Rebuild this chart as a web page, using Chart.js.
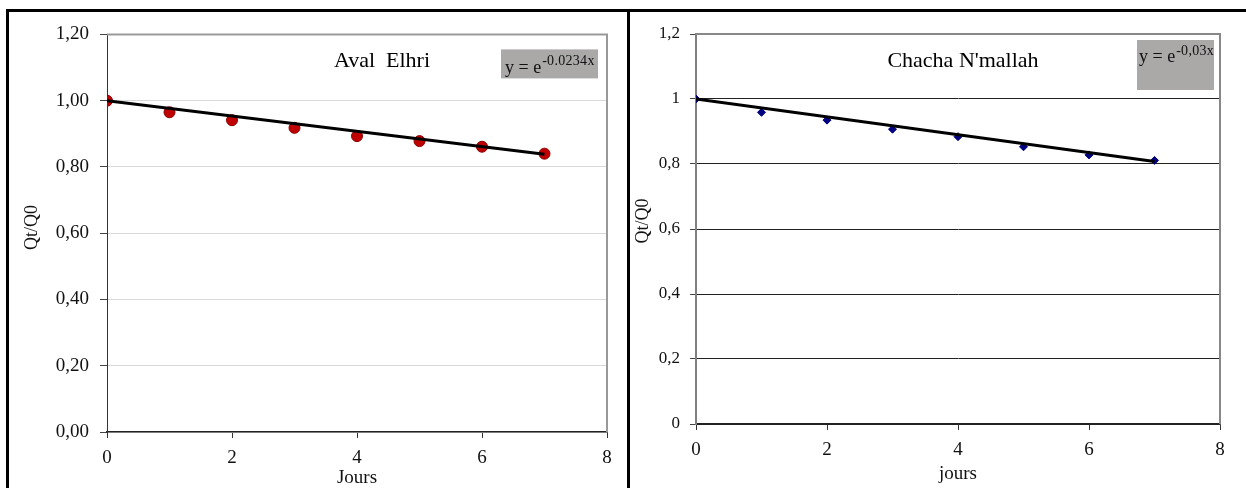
<!DOCTYPE html>
<html>
<head>
<meta charset="utf-8">
<script src="https://cdn.jsdelivr.net/npm/chart.js@4.4.1/dist/chart.umd.min.js"></script>
<style>
  html, body { margin: 0; padding: 0; background: #fff; }
  body { width: 1246px; height: 488px; overflow: hidden; position: relative; }
  .frame { position: absolute; left: 6px; top: 9px; width: 1300px; height: 600px; border: 3px solid #000; box-sizing: border-box; }
  .divider { position: absolute; left: 627px; top: 9px; width: 3px; height: 480px; background: #000; }
  .cell { position: absolute; top: 12px; width: 616px; height: 476px; }
</style>
</head>
<body>
<div class="frame"></div>
<div class="divider"></div>
<div class="cell" style="left:10px"><canvas id="left"></canvas></div>
<div class="cell" style="left:630px"><canvas id="right"></canvas></div>
<script>
// days
const days = [0, 1, 2, 3, 4, 5, 6, 7];
// Qt/Q0 measured values
const avalElhri = [1.000, 0.965, 0.941, 0.918, 0.893, 0.878, 0.861, 0.840];
const chachaNmallah = [1.000, 0.959, 0.935, 0.907, 0.884, 0.853, 0.828, 0.811];
// trend line ends
const trendDays = [0, 7];
const avalTrend = [1.000, 0.838];
const chachaTrend = [1.000, 0.808];

const xTickValues = [0, 2, 4, 6, 8];
const xTickLabels = ["0", "2", "4", "6", "8"];
const yTickValues = [0, 0.2, 0.4, 0.6, 0.8, 1.0, 1.2];
const yTickLabelsLeft = ["0,00", "0,20", "0,40", "0,60", "0,80", "1,00", "1,20"];
const yTickLabelsRight = ["0", "0,2", "0,4", "0,6", "0,8", "1", "1,2"];

const FONT = "'Liberation Serif', 'Times New Roman', serif";

function toPoints(xs, ys) {
  return xs.map((x, i) => ({ x, y: ys[i] }));
}

// titles, equation box, y title and plot frame
const annotate = {
  id: "annotate",
  afterDraw(chart, args, opts) {
    const { ctx, chartArea: a } = chart;
    ctx.save();
    // frame (top + right)
    ctx.strokeStyle = opts.frameColor;
    ctx.lineWidth = 2;
    ctx.beginPath();
    ctx.moveTo(a.left, a.top);
    ctx.lineTo(a.right, a.top);
    ctx.lineTo(a.right, a.bottom);
    ctx.stroke();
    // title
    ctx.fillStyle = "#000";
    ctx.font = "22px " + FONT;
    ctx.textAlign = "center";
    ctx.textBaseline = "alphabetic";
    ctx.fillText(opts.title, a.left + opts.titleX, a.top + opts.titleY);
    // y axis title
    ctx.save();
    ctx.translate(a.left + opts.yTitle.x, a.top + opts.yTitle.y);
    ctx.rotate(-Math.PI / 2);
    ctx.textBaseline = "middle";
    ctx.font = "18px " + FONT;
    ctx.fillStyle = "#111";
    ctx.fillText("Qt/Q0", 0, 0);
    ctx.restore();
    // equation box
    const b = opts.box;
    ctx.fillStyle = "#aba8a8";
    ctx.fillRect(a.left + b.x, a.top + b.y, b.w, b.h);
    ctx.fillStyle = "#111";
    ctx.textAlign = "left";
    ctx.font = "18px " + FONT;
    const tx = a.left + b.x + b.tx;
    ctx.fillText("y = e", tx, a.top + b.base);
    const w = ctx.measureText("y = e").width;
    ctx.font = "14px " + FONT;
    ctx.letterSpacing = "0.3px";
    ctx.fillText(opts.exponent, tx + w + 1, a.top + b.supBase);
    ctx.restore();
  },
};

function makeChart(id, cfg) {
  return new Chart(document.getElementById(id), {
    type: "scatter",
    data: {
      datasets: [
        {
          label: "trend",
          data: toPoints(trendDays, cfg.trend),
          showLine: true,
          borderColor: "#000",
          borderWidth: 3,
          pointRadius: 0,
          order: 0,
        },
        {
          label: "Qt/Q0",
          data: toPoints(days, cfg.values),
          pointStyle: cfg.pointStyle,
          pointRadius: cfg.pointRadius,
          backgroundColor: cfg.pointColor,
          borderColor: cfg.pointBorder,
          borderWidth: 1,
          showLine: false,
          order: 1,
        },
      ],
    },
    options: {
      responsive: true,
      maintainAspectRatio: false,
      animation: false,
      events: [],
      layout: { padding: { top: cfg.padTop, right: cfg.padRight, left: 0, bottom: 0 } },
      plugins: {
        legend: { display: false },
        tooltip: { enabled: false },
        annotate: cfg.annotate,
      },
      scales: {
        x: {
          type: "linear",
          min: 0,
          max: 8,
          afterBuildTicks: (s) => { s.ticks = xTickValues.map((v) => ({ value: v })); },
          afterFit: (s) => { s.height = cfg.xHeight; },
          ticks: {
            callback: (v, i) => xTickLabels[i],
            font: { family: FONT, size: 19 },
            color: "#111",
            padding: cfg.xTickPad,
            maxRotation: 0,
          },
          grid: { drawOnChartArea: false, drawTicks: true, tickLength: 6, tickColor: "#333" },
          border: { color: "#222", width: 1.5 },
          title: {
            display: true,
            text: cfg.xTitle,
            font: { family: FONT, size: 19, lineHeight: 1 },
            color: "#111",
            padding: { top: 0, bottom: cfg.xTitlePad },
          },
        },
        y: {
          type: "linear",
          min: 0,
          max: 1.2,
          afterBuildTicks: (s) => { s.ticks = yTickValues.map((v) => ({ value: v })); },
          afterFit: (s) => { s.width = cfg.yWidth; },
          ticks: {
            callback: (v, i) => cfg.yLabels[i],
            font: { family: FONT, size: cfg.yFontSize },
            color: "#111",
            padding: cfg.yTickPad,
          },
          grid: { color: cfg.gridColor, lineWidth: 1, tickLength: cfg.yTickLength, tickColor: "#444" },
          border: { color: cfg.yAxisColor, width: cfg.yAxisWidth },
        },
      },
    },
    plugins: [annotate],
  });
}

makeChart("left", {
  values: avalElhri,
  trend: avalTrend,
  pointStyle: "circle",
  pointRadius: 5.5,
  pointColor: "#c00000",
  pointBorder: "#8b0000",
  padTop: 21,
  padRight: 19,
  xHeight: 56,
  yWidth: 97,
  xTickPad: 9,
  yTickPad: 11,
  yTickLength: 7,
  yFontSize: 19,
  yLabels: yTickLabelsLeft,
  gridColor: "#d9d9d9",
  yAxisColor: "#333",
  yAxisWidth: 1,
  xTitle: "Jours",
  xTitlePad: 0,
  annotate: {
    title: "Aval  Elhri",
    titleX: 275,
    titleY: 33,
    exponent: "-0.0234x",
    frameColor: "#999",
    yTitle: { x: -75, y: 193 },
    box: { x: 394, y: 15, w: 97, h: 29, tx: 4, base: 39, supBase: 31 },
  },
});

makeChart("right", {
  values: chachaNmallah,
  trend: chachaTrend,
  pointStyle: "rectRot",
  pointRadius: 4,
  pointColor: "#000080",
  pointBorder: "#000080",
  padTop: 22,
  padRight: 26,
  xHeight: 64,
  yWidth: 66,
  xTickPad: 9,
  yTickPad: 10,
  yTickLength: 6,
  yFontSize: 17,
  yLabels: yTickLabelsRight,
  gridColor: "#222",
  yAxisColor: "#808080",
  yAxisWidth: 2,
  xTitle: "jours",
  xTitlePad: 4,
  annotate: {
    title: "Chacha N'mallah",
    titleX: 267,
    titleY: 33,
    exponent: "-0,03x",
    frameColor: "#888",
    yTitle: { x: -53, y: 187 },
    box: { x: 441, y: 6, w: 77, h: 50, tx: 2, base: 28, supBase: 21 },
  },
});
</script>
</body>
</html>
